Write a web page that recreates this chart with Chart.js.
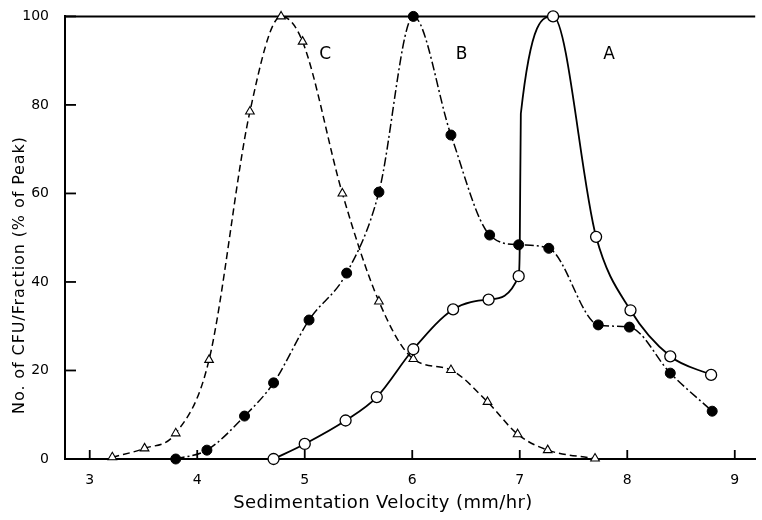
<!DOCTYPE html>
<html>
<head>
<meta charset="UTF-8">
<title>Sedimentation Velocity</title>
<script src="https://cdn.jsdelivr.net/npm/chart.js"></script>
<style>
    body { margin: 0; background: #fff; }
    #wrap { width: 762px; height: 520px; }
</style>
</head>
<body>
<div id="wrap"><canvas id="sedChart" width="762" height="520"></canvas></div>
<script>
// curve A - open circles, solid line
var aX = [4.71, 5.00, 5.38, 5.67, 6.01, 6.38, 6.71, 6.99, 7.31, 7.71, 8.03, 8.40, 8.78];
var aY = [0, 3.4, 8.7, 14.0, 24.8, 33.8, 36.0, 41.3, 100, 50.2, 33.6, 23.2, 19.0];
// points where line A bends sharply upward (no marker drawn there)
var aBendX = [7.00, 7.01];
var aBendY = [48, 78];

// curve B - filled circles, dash-dot line
var bX = [3.80, 4.09, 4.44, 4.71, 5.04, 5.39, 5.69, 6.01, 6.36, 6.72, 6.99, 7.27, 7.73, 8.02, 8.40, 8.79];
var bY = [0, 2.0, 9.7, 17.2, 31.4, 42.0, 60.3, 100, 73.2, 50.6, 48.4, 47.6, 30.3, 29.8, 19.4, 10.8];

// curve C - open triangles, dashed line
var cX = [3.21, 3.51, 3.80, 4.11, 4.49, 4.78, 4.98, 5.35, 5.69, 6.01, 6.36, 6.70, 6.98, 7.26, 7.70];
var cY = [0.4, 2.4, 5.8, 22.4, 78.5, 100, 94.3, 60, 35.6, 22.6, 20.1, 12.9, 5.6, 2.0, 0.1];

var xTicks = [3, 4, 5, 6, 7, 8, 9];
var yTicks = [0, 20, 40, 60, 80, 100];
var curveNames = ['A', 'B', 'C'];

function toPoints(xs, ys, marked) {
    return xs.map(function (x, i) { return { x: x, y: ys[i], m: marked }; });
}

var aLine = toPoints(aX, aY, true).concat(toPoints(aBendX, aBendY, false))
    .sort(function (p, q) { return p.x - q.x; });

var FONT = 'DejaVu Sans';

// curve letters sit near the top of each peak
var letterPos = { A: [7.83, 91.3], B: [6.46, 91.3], C: [5.19, 91.3] };

var decorPlugin = {
    id: 'decor',
    beforeDatasetsDraw: function (chart) {
        var ctx = chart.ctx, area = chart.chartArea;
        var xs = chart.scales.x, ys = chart.scales.y;
        ctx.save();
        ctx.strokeStyle = '#000';
        ctx.lineWidth = 2;
        // top frame line
        ctx.beginPath();
        ctx.moveTo(area.left - 1, area.top);
        ctx.lineTo(area.right, area.top);
        ctx.stroke();
        // inward tick marks
        ctx.lineWidth = 1.8;
        yTicks.forEach(function (v) {
            var py = ys.getPixelForValue(v);
            ctx.beginPath();
            ctx.moveTo(area.left, py);
            ctx.lineTo(area.left + 11, py);
            ctx.stroke();
        });
        xTicks.forEach(function (v) {
            var px = xs.getPixelForValue(v);
            ctx.beginPath();
            ctx.moveTo(px, area.bottom);
            ctx.lineTo(px, area.bottom - 9);
            ctx.stroke();
        });
        ctx.restore();
    },
    afterDraw: function (chart) {
        var ctx = chart.ctx;
        var xs = chart.scales.x, ys = chart.scales.y;
        ctx.save();
        ctx.fillStyle = '#000';
        ctx.textAlign = 'center';
        ctx.textBaseline = 'middle';
        ctx.font = '17px "' + FONT + '"';
        curveNames.forEach(function (n) {
            var p = letterPos[n];
            ctx.fillText(n, xs.getPixelForValue(p[0]), ys.getPixelForValue(p[1]));
        });
        // axis titles
        ctx.font = '18px "' + FONT + '"';
        ctx.letterSpacing = '0.4px';
        ctx.fillText('Sedimentation Velocity (mm/hr)', 383, 503);
        ctx.translate(20, 275);
        ctx.rotate(-Math.PI / 2);
        ctx.font = '16px "' + FONT + '"';
        ctx.letterSpacing = '0.9px';
        ctx.fillText('No. of CFU/Fraction (% of Peak)', 0, 0);
        ctx.restore();
    }
};

var ctx = document.getElementById('sedChart').getContext('2d');
var sedChart = new Chart(ctx, {
    type: 'line',
    data: {
        datasets: [{
            label: 'A',
            data: aLine,
            borderColor: '#000',
            borderWidth: 1.8,
            pointStyle: 'circle',
            pointRadius: function (c) { return c.raw && c.raw.m ? 5.5 : 0; },
            pointBackgroundColor: '#fff',
            pointBorderColor: '#000',
            pointBorderWidth: 1.3,
            cubicInterpolationMode: 'monotone',
            clip: false
        }, {
            label: 'B',
            data: toPoints(bX, bY, true),
            borderColor: '#000',
            borderWidth: 1.5,
            borderDash: [9, 3, 2, 3],
            pointStyle: 'circle',
            pointRadius: 5,
            pointBackgroundColor: '#000',
            pointBorderColor: '#000',
            pointBorderWidth: 1,
            cubicInterpolationMode: 'monotone',
            clip: false
        }, {
            label: 'C',
            data: toPoints(cX, cY, true),
            borderColor: '#000',
            borderWidth: 1.5,
            borderDash: [7, 4],
            pointStyle: 'triangle',
            pointRadius: 5,
            pointBackgroundColor: '#fff',
            pointBorderColor: '#000',
            pointBorderWidth: 1.1,
            cubicInterpolationMode: 'monotone',
            clip: false
        }]
    },
    options: {
        responsive: false,
        animation: false,
        events: [],
        layout: { padding: { top: 12, right: 0, left: 0, bottom: 0 } },
        plugins: {
            legend: { display: false },
            tooltip: { enabled: false }
        },
        scales: {
            x: {
                type: 'linear',
                min: 2.77,
                max: 9.19,
                afterBuildTicks: function (s) { s.ticks = xTicks.map(function (v) { return { value: v }; }); },
                afterFit: function (s) { s.height = 61; },
                grid: { display: false },
                border: { display: true, color: '#000', width: 2 },
                ticks: { color: '#000', padding: 5, font: { family: FONT, size: 14 } }
            },
            y: {
                min: 0,
                max: 100,
                afterBuildTicks: function (s) { s.ticks = yTicks.map(function (v) { return { value: v }; }); },
                afterFit: function (s) { s.width = 65; },
                grid: { display: false },
                border: { display: true, color: '#000', width: 2 },
                ticks: { color: '#000', padding: 8, font: { family: FONT, size: 14 } }
            }
        }
    },
    plugins: [decorPlugin]
});
</script>
</body>
</html>
